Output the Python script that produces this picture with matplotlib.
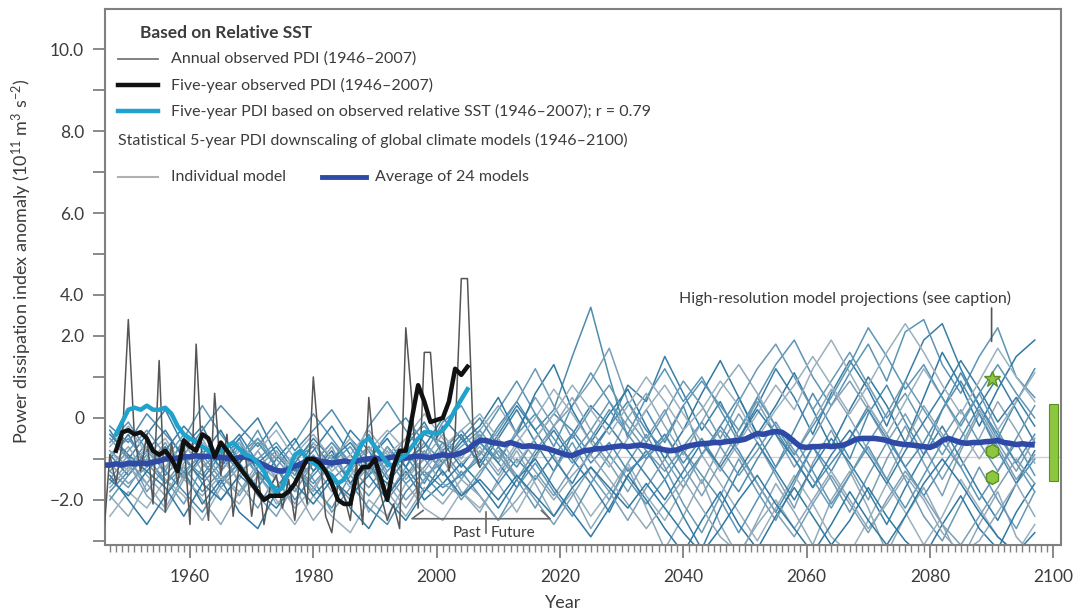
import numpy as np
import matplotlib
matplotlib.use('Agg')
import matplotlib.pyplot as plt

plt.rcParams['font.family'] = ['Lato', 'DejaVu Sans']
plt.rcParams['mathtext.fontset'] = 'custom'
plt.rcParams['mathtext.rm'] = 'Lato'
plt.rcParams['mathtext.it'] = 'Lato:italic'

# observed annual PDI anomaly, 1946-2007
obs_years = np.arange(1946, 2008)
obs_annual = [-2.9, -0.9, -1.6, -0.6, 2.4, -0.5, -1.3, -0.4, -2.1, 1.4,
              -2.3, -0.6, -1.6, -0.5, -2.6, 1.8, -1.2, -2.5, 0.6, -1.4,
              -0.4, -2.4, -1.1, -0.9, -2.4, -1.3, -2.6, -1.7, -1.4, -2.2,
              -1.5, -2.5, -1.2, -2.1, 1.0, -0.8, -2.4, -2.8, -1.6, -1.9,
              -2.5, -1.1, -2.6, 0.5, -1.1, -1.9, -2.5, -2.1, -2.7, 2.2,
              0.4, -2.2, 1.6, 1.6, -0.5, -0.2, -1.3, -0.4, 3.4, 3.4,
              -0.7, -1.2]

# five-year smoothed series, 1948-2005
smooth_years = np.arange(1948, 2006)
obs_5yr = [-0.8, -0.35, -0.3, -0.4, -0.35, -0.5, -0.8, -0.9, -0.8, -1.0,
           -1.3, -0.55, -0.7, -0.8, -0.4, -0.5, -0.95, -0.6, -0.8, -1.0,
           -1.2, -1.4, -1.6, -1.8, -2.0, -1.9, -1.9, -1.9, -1.8, -1.6,
           -1.3, -1.0, -1.0, -1.1, -1.3, -1.6, -2.0, -2.1, -2.1, -1.4,
           -1.2, -1.2, -1.0, -1.5, -2.0, -1.2, -0.8, -0.8, 0.0, 0.8,
           0.4, -0.1, -0.05, 0.0, 0.4, 1.2, 1.05, 1.25]
sst_5yr = [-0.4, -0.1, 0.2, 0.25, 0.2, 0.3, 0.2, 0.2, 0.25, 0.1,
           -0.2, -0.4, -0.5, -0.6, -0.7, -0.8, -0.9, -0.8, -0.7, -0.6,
           -0.75, -0.9, -0.95, -1.1, -1.3, -1.6, -1.8, -1.7, -1.3, -0.9,
           -0.8, -1.0, -1.1, -1.2, -1.3, -1.4, -1.6, -1.5, -1.2, -0.9,
           -0.6, -0.5, -0.7, -0.9, -1.1, -1.2, -1.0, -0.9, -0.7, -0.5,
           -0.35, -0.35, -0.4, -0.3, -0.1, 0.2, 0.45, 0.7]

# average of 24 models, 1946-2097
avg_years = np.arange(1946, 2098)
avg_24 = [-1.15, -1.15, -1.12, -1.15, -1.1, -1.12, -1.1, -1.12, -1.08, -1.05,
          -1.0, -1.0, -0.98, -0.95, -0.95, -0.92, -0.95, -0.93, -0.95, -0.97,
          -0.98, -1.0, -0.97, -0.95, -1.0, -1.08, -1.15, -1.22, -1.28, -1.3,
          -1.25, -1.18, -1.12, -1.05, -1.0, -1.05, -1.08, -1.1, -1.08, -1.05,
          -1.08, -1.05, -1.02, -1.0, -0.98, -1.0, -0.98, -0.95, -0.97, -0.98,
          -0.95, -0.93, -0.95, -0.97, -0.93, -0.9, -0.92, -0.9, -0.85, -0.78,
          -0.65, -0.55, -0.55, -0.6, -0.62, -0.65, -0.6, -0.65, -0.7, -0.68,
          -0.7, -0.72, -0.75, -0.8, -0.85, -0.9, -0.92, -0.85, -0.8, -0.78,
          -0.75, -0.75, -0.72, -0.7, -0.68, -0.7, -0.68, -0.66, -0.68, -0.72,
          -0.75, -0.78, -0.8, -0.78, -0.72, -0.68, -0.65, -0.63, -0.62, -0.6,
          -0.6, -0.58, -0.56, -0.55, -0.52, -0.45, -0.38, -0.4, -0.36, -0.33,
          -0.35, -0.45, -0.58, -0.7, -0.72, -0.7, -0.7, -0.68, -0.7, -0.68,
          -0.66, -0.6, -0.52, -0.5, -0.5, -0.5, -0.52, -0.55, -0.6, -0.63,
          -0.65, -0.66, -0.68, -0.7, -0.72, -0.66, -0.55, -0.5, -0.55, -0.6,
          -0.62, -0.6, -0.6, -0.58, -0.57, -0.55, -0.6, -0.62, -0.65, -0.63,
          -0.65, -0.66]

# individual downscaled models, every third year 1947-2097
model_years = np.arange(1947, 2098, 3)
m01 = [-0.8, -1.2, -0.6, -1.4, -0.9, -1.6, -1.1, -0.5, -1.3, -1.8,
       -1.0, -0.7, -1.5, -1.1, -0.4, -1.2, -0.9, -1.6, -0.8, -0.3,
       -0.9, -0.2, 0.4, -0.3, 0.2, 1.5, 2.7, 1.0, -0.5, 0.2,
       -0.6, 0.3, -0.9, -0.2, 0.5, -0.4, -1.2, -0.3, 0.6, -0.2,
       -1.0, 0.1, 0.8, -0.1, -0.9, 0.2, 1.1, 0.3, -0.5, 0.4, 1.2]
m02 = [-1.5, -0.9, -1.8, -1.2, -0.6, -1.3, -2.0, -1.4, -0.8, -1.5,
       -2.1, -1.3, -0.7, -1.6, -1.0, -1.9, -1.2, -0.6, -1.4, -0.9,
       -0.4, -1.1, -0.3, 0.5, -0.2, 0.3, 0.9, 1.7, 0.4, -0.5,
       0.2, -0.8, -1.6, -0.7, 0.1, -0.6, -1.4, -2.2, -1.1, -0.3,
       -1.2, -2.0, -1.0, -0.2, -1.1, -1.9, -0.8, 0.1, -0.7, -1.5, -0.9]
m03 = [-0.3, -1.0, -0.4, 0.2, -0.7, -0.2, -1.1, -0.5, 0.0, -0.9,
       -1.4, -0.6, -1.2, -0.3, -0.8, -1.5, -0.7, -0.1, -0.9, -0.4,
       -1.2, -0.5, 0.2, -0.6, -1.3, -0.4, 0.3, -0.2, 0.8, 0.4,
       1.5, 0.6, -0.3, 0.4, -0.5, 0.3, 1.2, 0.5, -0.4, 0.6,
       1.4, 0.7, -0.2, 0.9, 1.9, 2.3, 1.2, 0.3, 1.0, 0.2, -0.6]
m04 = [-1.9, -2.4, -1.6, -2.2, -1.4, -2.0, -2.6, -1.8, -1.3, -2.1,
       -1.7, -2.5, -1.9, -1.2, -2.3, -1.6, -2.2, -1.5, -1.0, -1.8,
       -2.3, -1.5, -0.8, -1.6, -2.4, -1.8, -2.7, -2.0, -1.2, -2.2,
       -3.2, -2.4, -1.5, -2.6, -3.4, -2.5, -1.6, -2.3, -3.1, -2.0,
       -1.3, -2.2, -3.3, -2.4, -1.7, -2.6, -3.5, -2.6, -1.8, -2.9, -3.4]
m05 = [-0.6, -0.1, -0.8, -1.3, -0.5, 0.3, -0.4, -1.0, -0.3, -1.2,
       -0.6, 0.1, -0.5, -1.1, -0.2, 0.4, -0.3, -0.9, -0.1, 0.3,
       -0.5, 0.2, 0.9, 0.1, -0.7, 0.3, 1.1, 0.4, -0.4, 0.5,
       1.2, 0.4, 1.0, 0.2, -0.6, 0.5, 1.3, 1.9, 1.0, 0.3,
       1.1, 1.8, 0.9, 2.1, 2.4, 1.3, 0.6, 1.5, 2.2, 1.0, 0.5]
m06 = [-1.3, -1.7, -1.0, -1.5, -2.1, -1.2, -0.8, -1.6, -2.2, -1.4,
       -0.9, -1.5, -2.3, -1.7, -1.1, -2.0, -1.4, -0.8, -1.3, -2.0,
       -1.4, -0.7, -1.5, -2.2, -1.3, -0.6, -1.4, -2.0, -1.1, -0.4,
       -1.2, -2.1, -2.8, -1.9, -1.0, -1.8, -2.5, -1.6, -0.7, -1.5,
       -2.3, -1.4, -0.6, -1.5, -2.4, -3.0, -2.1, -1.2, -2.0, -2.7, -1.8]
m07 = [-1.0, -0.4, -1.2, -0.7, -1.5, -0.9, -0.3, -1.1, -1.7, -1.0,
       -0.5, -1.3, -0.8, -1.6, -1.0, -0.5, -1.2, -1.8, -1.1, -0.6,
       -0.2, 0.5, -0.4, 0.6, 1.3, 0.2, -0.6, 0.1, 0.7, -0.2,
       -1.0, -0.3, 0.6, 1.4, 0.5, -0.4, 0.3, 1.1, 0.2, -0.7,
       0.2, 1.0, 0.3, -0.6, 0.5, 1.6, 0.8, -0.2, 0.7, 1.5, 1.9]
m08 = [-2.4, -1.8, -2.2, -1.5, -1.9, -2.5, -1.7, -2.1, -1.4, -2.0,
       -2.6, -1.9, -2.4, -2.8, -2.0, -2.4, -1.6, -2.2, -2.5, -1.8,
       -2.2, -1.6, -2.3, -1.5, -0.9, -1.7, -2.4, -1.8, -1.1, -1.9,
       -2.5, -1.7, -0.9, -1.6, -2.3, -3.0, -2.2, -1.4, -2.1, -2.9,
       -3.3, -2.5, -1.6, -2.3, -3.1, -2.4, -1.5, -2.2, -2.9, -3.3, -2.6]
m09 = [-0.2, -0.6, 0.1, -0.4, -0.9, -0.3, 0.3, -0.2, -0.7, -0.1,
       -0.8, -0.3, 0.2, -0.5, -1.0, -0.4, 0.0, -0.6, -1.1, -0.5,
       0.0, -0.7, -1.2, -0.5, 0.1, -0.3, -0.9, -0.2, 0.4, -0.3,
       -0.8, -1.5, -0.9, -0.2, -0.8, -1.6, -2.3, -1.5, -0.7, -1.3,
       -0.5, 0.3, -0.4, -1.2, -0.6, 0.2, 0.9, 0.1, -0.8, -1.6, -1.0]
m10 = [-1.6, -1.1, -1.9, -2.3, -1.5, -1.0, -1.7, -1.2, -1.9, -2.4,
       -1.6, -1.1, -1.8, -1.3, -0.7, -1.4, -2.0, -1.5, -0.9, -1.5,
       -0.8, -1.4, -0.7, -1.3, -1.9, -1.2, -0.5, -1.1, -1.8, -1.0,
       -0.4, -1.2, -1.9, -1.1, -0.3, 0.4, -0.4, -1.2, -0.5, 0.3,
       0.9, 0.2, -0.6, 0.1, -0.7, -1.5, -0.7, 0.2, -0.6, -1.3, -0.5]
m11 = [-0.9, -1.4, -0.8, -0.3, -1.0, -1.5, -0.9, -0.4, -1.1, -0.7,
       -1.3, -0.8, -0.2, -0.9, -1.4, -0.7, -1.2, -0.4, -0.6, -1.2,
       -0.6, -1.1, -1.7, -0.9, -0.3, -1.0, -1.6, -2.3, -1.4, -0.8,
       -1.5, -2.4, -3.2, -2.2, -1.3, -0.6, -1.3, -2.0, -1.2, -0.5,
       -1.1, -1.8, -2.6, -1.7, -0.9, -0.2, -1.0, -1.8, -2.5, -1.6, -0.8]
m12 = [-1.2, -0.7, -1.4, -1.9, -1.1, -0.5, -1.3, -0.8, -1.4, -0.9,
       -1.2, -1.8, -1.0, -0.5, -1.3, -0.8, -1.5, -1.0, -0.4, -1.0,
       -0.3, 0.3, -0.4, -1.0, -0.2, 0.5, -0.3, -0.9, 0.0, 0.6,
       -0.2, -0.9, -0.1, 0.7, 1.3, 0.6, -0.2, -0.9, -0.1, 0.7,
       0.0, -0.8, -1.5, -0.6, 0.3, -0.4, -1.2, -0.5, 0.4, -0.3, -1.1]
m13 = [-2.0, -1.4, -0.9, -1.6, -1.2, -1.8, -1.3, -0.7, -1.4, -1.9,
       -1.2, -1.7, -2.2, -1.4, -1.9, -1.3, -0.8, -1.4, -1.9, -1.3,
       -1.9, -2.5, -1.7, -1.1, -1.8, -2.4, -1.6, -0.9, -1.5, -2.1,
       -1.5, -0.8, -1.4, -2.0, -2.8, -2.0, -1.2, -0.5, -1.3, -2.1,
       -1.4, -0.7, -1.5, -2.2, -1.4, -0.6, -1.2, -2.0, -1.3, -0.6, -1.4]
m14 = [-0.5, -1.0, -1.6, -1.0, -0.4, -1.1, -1.6, -0.9, -0.5, -1.2,
       -1.8, -1.1, -0.6, -1.2, -1.7, -1.1, -0.5, -0.2, -0.8, -1.4,
       -0.9, -0.3, 0.4, 1.2, 0.3, -0.5, 0.2, 0.8, 0.0, -0.6,
       0.1, 0.9, 0.3, -0.5, 0.4, 1.2, 1.8, 1.0, 0.2, 0.9,
       1.6, 0.8, 0.0, 0.6, -0.2, -0.9, -0.1, 0.6, -0.3, -1.1, -1.8]
m15 = [-1.4, -2.0, -2.6, -1.9, -1.3, -2.1, -1.5, -2.3, -2.7, -1.8,
       -1.2, -1.9, -1.4, -2.2, -2.7, -1.9, -1.3, -2.0, -1.6, -1.1,
       -1.6, -2.2, -1.5, -1.0, -1.7, -2.3, -2.9, -2.2, -1.4, -2.0,
       -2.7, -3.3, -2.5, -1.8, -2.6, -3.2, -2.4, -1.7, -2.4, -3.1,
       -2.5, -1.7, -2.4, -3.0, -3.4, -2.6, -1.9, -2.7, -3.2, -2.3, -1.6]
m16 = [-0.7, -0.2, -0.9, -0.5, -1.2, -0.6, -1.0, -1.5, -0.8, -0.3,
       -1.0, -0.6, -1.3, -0.9, -0.3, -0.9, -0.5, 0.1, -0.5, -1.1,
       -0.7, -1.3, -0.6, 0.0, 0.7, 0.1, -0.6, -1.2, -0.5, 0.2,
       0.8, 0.1, -0.6, -1.3, -0.6, 0.1, 0.8, 0.2, 1.2, 1.9,
       1.1, 0.3, -0.4, 0.4, 1.2, 0.5, -0.3, -1.0, -0.3, 0.4, 1.1]
m17 = [-1.8, -1.3, -0.7, -1.3, -1.8, -2.3, -1.6, -1.1, -0.6, -1.2,
       -2.0, -1.4, -0.9, -1.6, -2.2, -2.6, -1.8, -1.3, -1.7, -1.4,
       -1.0, -1.6, -1.0, -1.5, -0.9, -0.4, -1.1, -0.6, -1.3, -0.9,
       -0.4, -1.1, -0.5, -1.2, -1.8, -1.0, -0.3, -1.0, -1.7, -1.1,
       -0.5, 0.2, -0.5, -1.2, -1.9, -1.2, -0.5, 0.3, -0.4, -1.1, -0.4]
m18 = [-1.1, -1.6, -1.2, -0.6, -1.4, -0.8, -1.4, -1.9, -1.2, -0.8,
       -1.4, -0.9, -1.5, -2.0, -1.3, -0.7, -1.4, -1.0, -1.6, -1.9,
       -1.3, -0.8, -1.4, -2.0, -2.6, -1.9, -1.2, -1.8, -2.5, -1.7,
       -1.0, -1.7, -0.9, -0.3, -0.9, -1.6, -2.3, -2.9, -2.1, -1.4,
       -2.1, -2.8, -2.0, -1.3, -1.9, -2.6, -3.1, -2.4, -1.7, -1.0, -1.6]
m19 = [-0.4, -0.9, -1.3, -0.8, -0.2, -0.7, -1.2, -0.6, -1.3, -1.7,
       -1.1, -0.5, -1.0, -0.6, -1.2, -1.6, -1.0, -0.7, 0.0, -0.5,
       -1.1, -0.4, 0.3, -0.3, -1.0, -1.6, -0.8, -0.2, -0.8, -1.4,
       -2.0, -1.3, -0.6, -1.2, -0.5, 0.2, -0.4, -1.0, -1.7, -0.9,
       -0.3, -0.9, -1.6, -0.8, -0.1, 0.6, 1.4, 0.7, -0.1, 0.5, -0.2]
m20 = [-1.7, -1.2, -1.6, -1.0, -1.5, -1.9, -1.4, -1.8, -1.1, -1.5,
       -2.2, -1.7, -1.1, -1.7, -1.2, -1.8, -2.4, -1.7, -2.1, -1.5,
       -1.9, -2.5, -2.0, -1.4, -2.0, -1.4, -0.9, -1.5, -2.1, -2.7,
       -2.1, -1.5, -2.2, -2.9, -3.3, -2.6, -2.0, -2.7, -2.0, -1.3,
       -2.0, -2.7, -2.1, -1.4, -2.0, -2.8, -3.3, -3.0, -2.3, -1.6, -2.4]
m21 = [-0.9, -0.5, -1.1, -1.6, -1.0, -1.4, -0.8, -1.3, -1.0, -0.6,
       -1.2, -1.6, -1.1, -0.7, -1.4, -1.0, -1.6, -1.2, -0.6, -0.9,
       -0.6, -1.0, -0.4, 0.1, -0.5, -1.1, -0.5, 0.2, -0.4, -1.0,
       -0.5, 0.3, 0.9, 0.3, -0.3, 0.5, -0.2, -0.9, -0.2, 0.5,
       1.3, 2.2, 1.5, 0.7, 1.3, 0.5, -0.2, 0.6, 1.3, 0.6, 0.0]
m22 = [-1.3, -0.8, -0.3, -0.9, -1.3, -0.9, -1.5, -1.1, -0.5, -1.0,
       -1.5, -1.1, -0.6, -1.1, -0.7, -1.3, -0.8, -1.4, -1.1, -0.7,
       -0.3, -0.9, -1.5, -0.8, -0.2, -0.9, -0.3, 0.4, -0.2, -0.8,
       -1.3, -0.7, -0.1, -0.7, -1.4, -0.8, -0.1, -0.8, -1.5, -2.2,
       -1.4, -0.6, 0.1, 0.9, 0.2, -0.5, 0.2, -0.6, -1.3, -0.5, 0.3]
m23 = [-1.5, -1.9, -1.3, -1.7, -2.4, -1.6, -2.0, -1.4, -1.8, -2.2,
       -1.6, -2.1, -1.5, -1.9, -1.4, -2.0, -2.5, -1.8, -1.3, -1.9,
       -1.5, -2.0, -1.4, -1.9, -2.4, -1.7, -1.2, -1.7, -2.2, -1.6,
       -2.2, -2.8, -3.3, -2.7, -2.0, -1.4, -2.1, -2.7, -3.3, -2.6,
       -1.8, -2.5, -3.1, -2.4, -1.6, -1.0, -1.6, -2.3, -2.9, -3.3, -2.8]
m24 = [-0.8, -1.3, -0.7, -1.2, -0.9, -0.4, -1.0, -0.6, -1.1, -1.4,
       -0.9, -0.4, -1.0, -1.4, -0.8, -0.3, -0.8, -1.3, -0.7, -0.3,
       0.1, -0.5, -1.1, -0.5, 0.1, 0.8, 0.2, -0.4, 0.3, 1.0,
       0.4, -0.3, 0.2, 0.9, 0.3, -0.5, 0.2, 0.8, 1.5, 0.8,
       0.1, 0.8, 1.6, 2.3, 1.6, 0.8, 0.1, 0.9, 1.7, 1.0, 0.4]
models = [m01, m02, m03, m04, m05, m06, m07, m08, m09, m10, m11, m12,
          m13, m14, m15, m16, m17, m18, m19, m20, m21, m22, m23, m24]

# high-resolution model projections near 2090
hires_year = 2090
hires_star = [0.95]
hires_hex = [-0.8, -1.45]
hires_range = (-1.55, 0.35)

ytick_pos = [9, 8, 7, 6, 5, 4, 3, 2, 1, 0, -1, -2, -3]
ytick_lab = ['10.0', '', '8.0', '', '6.0', '', '4.0', '2.0', '', '0', '', '\u22122.0', '']

txt = '#3c3c3c'
axc = '#808080'
model_cols = ['#4d8cb0', '#7c9fb6', '#3a7fa6', '#8fa9ba', '#5b95b5', '#6b99b4', '#2f79a2', '#9ab0be']

fig = plt.figure(figsize=(10.78, 6.16), dpi=100)
ax = fig.add_axes([0.0973, 0.1153, 0.8866, 0.8709])

for i, m in enumerate(models):
    ax.plot(model_years, m, color=model_cols[i % len(model_cols)], lw=1.1, zorder=2)

ax.axhline(-0.95, color='#d8cccc', lw=1.0, zorder=1)
ax.plot(obs_years, obs_annual, color='#555555', lw=1.1, zorder=3)
ax.plot(avg_years, avg_24, color='#2e4aa6', lw=4, zorder=4, solid_capstyle='butt')
ax.plot(smooth_years, sst_5yr, color='#1fa3cc', lw=3.2, zorder=5)
ax.plot(smooth_years, obs_5yr, color='#111111', lw=3.2, zorder=6)

# high-resolution projections
ax.plot([hires_year], hires_star, marker='*', ms=12, color='#8dc63f', mec='#5c8f25', ls='none', zorder=7)
ax.plot([hires_year] * len(hires_hex), hires_hex, marker='h', ms=10, color='#8dc63f', mec='#5c8f25', ls='none', zorder=7)
ax.bar([2100], [hires_range[1] - hires_range[0]], bottom=hires_range[0], width=1.5,
       color='#8dc63f', edgecolor='#5c8f25', lw=0.8, zorder=7, clip_on=False)
ax.annotate('', xy=(hires_year, 1.8), xytext=(hires_year, 2.75),
            arrowprops=dict(arrowstyle='-', color='#555555', lw=1.2))
ax.text(0.601, 0.459, 'High-resolution model projections (see caption)', transform=ax.transAxes,
        fontsize=11.5, color=txt, va='center', ha='left')

# past / future marker
ax.plot([1997.8, 1996.0, 2018.4, 2017.0], [-2.26, -2.46, -2.46, -2.26], color='#666666', lw=1.2, zorder=3)
ax.plot([2008, 2008], [-2.3, -2.8], color='#666666', lw=1.2, zorder=3)
ax.text(2007.2, -2.82, 'Past', ha='right', va='center', fontsize=11, color=txt)
ax.text(2008.8, -2.82, 'Future', ha='left', va='center', fontsize=11, color=txt)

ax.set_xlim(1946.2, 2101.2)
ax.set_ylim(-3.1, 9.99)
ax.set_xticks(np.arange(1960, 2101, 20))
ax.set_xticks(np.arange(1947, 2101, 1), minor=True)
ax.set_yticks(ytick_pos)
ax.set_yticklabels(ytick_lab)
ax.tick_params(axis='x', which='major', length=9.5, width=1.3, pad=8, labelsize=12.5,
               colors=axc, labelcolor=txt, direction='out')
ax.tick_params(axis='x', which='minor', length=5, width=1.0, colors=axc, direction='out')
ax.tick_params(axis='y', length=9, width=1.3, pad=6, labelsize=12.5, colors=axc, labelcolor=txt)
for s in ax.spines.values():
    s.set_color(axc)
    s.set_linewidth(1.5)

# legend drawn by hand
def ax_xy(px, py):
    return ((px - 104.9) / 955.8, (545 - py) / 536.5)

ax.text(*ax_xy(140, 33), 'Based on Relative SST', transform=ax.transAxes, fontsize=12.5,
        fontweight='bold', color=txt, va='center')
samples = [(59, '#777777', 1.3, 'Annual observed PDI (1946\u20132007)'),
           (85, '#111111', 3.2, 'Five-year observed PDI (1946\u20132007)'),
           (111, '#1fa3cc', 3.2, 'Five-year PDI based on observed relative SST (1946\u20132007); r = 0.79')]
for py, col, lw, lab in samples:
    x0, y0 = ax_xy(118, py)
    x1, _ = ax_xy(158, py)
    ax.plot([x0, x1], [y0, y0], transform=ax.transAxes, color=col, lw=lw, clip_on=False)
    ax.text(*ax_xy(171, py), lab, transform=ax.transAxes, fontsize=11.5, color=txt, va='center')
ax.text(*ax_xy(118, 140), 'Statistical 5-year PDI downscaling of global climate models (1946\u20132100)',
        transform=ax.transAxes, fontsize=11.5, color=txt, va='center')
x0, y0 = ax_xy(118, 177)
x1, _ = ax_xy(158, 177)
ax.plot([x0, x1], [y0, y0], transform=ax.transAxes, color='#b0b0b0', lw=1.5)
ax.text(*ax_xy(171, 177), 'Individual model', transform=ax.transAxes, fontsize=11.5, color=txt, va='center')
x0, y0 = ax_xy(322, 177)
x1, _ = ax_xy(366, 177)
ax.plot([x0, x1], [y0, y0], transform=ax.transAxes, color='#2e4aa6', lw=3.5)
ax.text(*ax_xy(375, 177), 'Average of 24 models', transform=ax.transAxes, fontsize=11.5, color=txt, va='center')

fig.text(22 / 1078, 1 - 261 / 616,
         'Power dissipation index anomaly (10$^{11}$ m$^{3}$ s$^{\u22122}$)',
         rotation=90, ha='center', va='center', fontsize=13, color=txt)
fig.text(563 / 1078, 1 - 603 / 616, 'Year', ha='center', va='center', fontsize=13, color=txt)

fig.savefig('out.png', dpi=100)
